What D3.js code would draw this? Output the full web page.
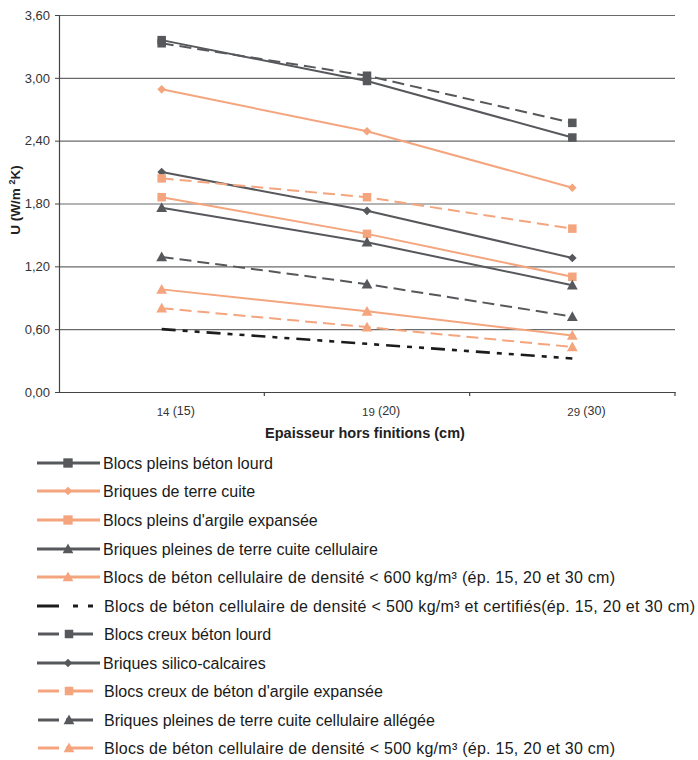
<!DOCTYPE html>
<html><head><meta charset="utf-8">
<script src="https://cdn.jsdelivr.net/npm/d3@7"></script>
<style>
body{margin:0;background:#fff;}
svg{display:block;font-family:"Liberation Sans",Arial,sans-serif;}
</style></head>
<body><svg id="c" width="698" height="760"></svg>
<script>
const categories = ["14|(15)", "19|(20)", "29|(30)"];
const yTicks = [0, 0.6, 1.2, 1.8, 2.4, 3.0, 3.6];
const seriesNames = [
  "Blocs pleins béton lourd",
  "Briques de terre cuite",
  "Blocs pleins d'argile expansée",
  "Briques pleines de terre cuite cellulaire",
  "Blocs de béton cellulaire de densité < 600 kg/m³ (ép. 15, 20 et 30 cm)",
  "Blocs de béton cellulaire de densité < 500 kg/m³ et certifiés(ép. 15, 20 et 30 cm)",
  "Blocs creux béton lourd",
  "Briques silico-calcaires",
  "Blocs creux de béton d'argile expansée",
  "Briques pleines de terre cuite cellulaire allégée",
  "Blocs de béton cellulaire de densité < 500 kg/m³ (ép. 15, 20 et 30 cm)"
];
const s1 = [3.36, 2.97, 2.43];
const s2 = [2.89, 2.49, 1.95];
const s3 = [1.86, 1.51, 1.10];
const s4 = [1.76, 1.43, 1.02];
const s5 = [0.98, 0.77, 0.54];
const s6 = [0.60, 0.46, 0.32];
const s7 = [3.33, 3.02, 2.57];
const s8 = [2.10, 1.73, 1.28];
const s9 = [2.04, 1.86, 1.56];
const s10 = [1.29, 1.03, 0.72];
const s11 = [0.80, 0.62, 0.43];
const seriesValues = [s1, s2, s3, s4, s5, s6, s7, s8, s9, s10, s11];

// styles (separate from data)
const DARK = "#56585b", SAL = "#f4a57e", BLK = "#1c1c1c";
const seriesColor = [DARK, SAL, SAL, DARK, SAL, BLK, DARK, DARK, SAL, DARK, SAL];
const seriesDash = [null, null, null, null, null, "14,7,5,7,5,7", "12,6", null, "12,6", "12,6", "12,6"];
const seriesMarker = ["square", "diamond", "square", "triangle", "triangle", null, "square", "diamond", "square", "triangle", "triangle"];
const seriesWidth = [2, 2, 2, 2, 2, 2.6, 2, 2, 2, 2, 2];
const legendTextLen = [null, null, null, null, 512, 591, null, null, null, null, 511];

const svg = d3.select("#c");
const L = 59, R = 675, T = 15, B = 392;
const x = d3.scaleBand().domain(categories).range([L, R]).paddingInner(0).paddingOuter(0);
const y = d3.scaleLinear().domain([0, 3.6]).range([B, T]);
const fmt = d => d3.format(".2f")(d).replace(".", ",");

// gridlines
svg.append("g").attr("transform", `translate(${L},0)`)
  .call(d3.axisLeft(y).tickValues(yTicks).tickSize(-(R - L)).tickFormat(""))
  .call(g => g.select(".domain").remove())
  .call(g => g.selectAll("line").attr("stroke", "#6a6a6a").attr("stroke-width", 1.2));

// y axis
svg.append("g").attr("transform", `translate(${L},0)`)
  .call(d3.axisLeft(y).tickValues(yTicks).tickSize(4).tickPadding(5).tickFormat(fmt))
  .call(g => g.select(".domain").attr("stroke", "#444").attr("stroke-width", 1.2))
  .call(g => g.selectAll("line").attr("stroke", "#444"))
  .call(g => g.selectAll("text").attr("font-size", 13).attr("fill", "#333").attr("font-family", "Liberation Sans, Arial, sans-serif"));

// x axis
svg.append("g").attr("transform", `translate(0,${B})`)
  .call(d3.axisBottom(x).tickSizeInner(0).tickSizeOuter(0).tickFormat(""))
  .call(g => g.select(".domain").attr("stroke", "#444").attr("stroke-width", 1.2));
const bounds = categories.slice(1).map(c => x(c)).concat([R]);
svg.append("g").selectAll("line").data(bounds).join("line")
  .attr("x1", d => d).attr("x2", d => d).attr("y1", B).attr("y2", B + 4)
  .attr("stroke", "#444").attr("stroke-width", 1.2);

// x labels
const xl = svg.append("g").selectAll("text").data(categories).join("text")
  .attr("x", d => x(d) + x.bandwidth() / 2 - 5).attr("y", 416)
  .attr("fill", "#333");
xl.append("tspan").attr("font-size", 11.5).text(d => d.split("|")[0] + " ");
xl.append("tspan").attr("font-size", 12.5).attr("dy", -1.5).text(d => d.split("|")[1]);

svg.append("text").attr("x", 365).attr("y", 438).attr("text-anchor", "middle")
  .attr("font-size", 14.5).attr("font-weight", "bold").attr("fill", "#222")
  .text("Epaisseur hors finitions (cm)");

// y title
const yt = svg.append("text").attr("transform", `translate(20,200) rotate(-90)`)
  .attr("text-anchor", "middle").attr("font-size", 13.5).attr("font-weight", "bold").attr("fill", "#222");
yt.append("tspan").text("U (W/m ");
yt.append("tspan").attr("font-size", 9).attr("dy", -5).text("2");
yt.append("tspan").attr("dy", 5).text("K)");

// markers
function drawMarker(g, type, cx, cy, color, scale) {
  const k = scale || 1;
  if (type === "square") {
    const s = 8.5 * k;
    g.append("rect").attr("x", cx - s / 2).attr("y", cy - s / 2).attr("width", s).attr("height", s).attr("fill", color);
  } else if (type === "diamond") {
    const s = 4.3 * k;
    g.append("path").attr("d", `M${cx},${cy - s}L${cx + s},${cy}L${cx},${cy + s}L${cx - s},${cy}Z`).attr("fill", color);
  } else if (type === "triangle") {
    const s = 5.4 * k;
    g.append("path").attr("d", `M${cx},${cy - s}L${cx + s},${cy + s * 0.8}L${cx - s},${cy + s * 0.8}Z`).attr("fill", color);
  }
}

const line = d3.line().x((d, i) => x(categories[i]) + x.bandwidth() / 2).y(d => y(d));
const plot = svg.append("g");
seriesValues.forEach((vals, si) => {
  const g = plot.append("g");
  g.append("path").attr("d", line(vals)).attr("fill", "none")
    .attr("stroke", seriesColor[si]).attr("stroke-width", seriesWidth[si])
    .attr("stroke-dasharray", seriesDash[si]);
  if (seriesMarker[si]) vals.forEach((v, i) =>
    drawMarker(g, seriesMarker[si], x(categories[i]) + x.bandwidth() / 2, y(v), seriesColor[si]));
});

// legend
const legY = [463, 491, 520, 549, 577, 606, 634, 663, 691, 720, 748];
const lg = svg.append("g");
seriesNames.forEach((name, si) => {
  const cy = legY[si];
  const g = lg.append("g");
  const c = seriesColor[si];
  if (si === 5) {
    g.append("line").attr("x1", 37).attr("x2", 59).attr("y1", cy).attr("y2", cy).attr("stroke", c).attr("stroke-width", 3);
    g.append("rect").attr("x", 73).attr("y", cy - 1.5).attr("width", 5).attr("height", 3).attr("fill", c);
    g.append("rect").attr("x", 88).attr("y", cy - 1.5).attr("width", 5).attr("height", 3).attr("fill", c);
  } else if (seriesDash[si]) {
    g.append("line").attr("x1", 38).attr("x2", 59).attr("y1", cy).attr("y2", cy).attr("stroke", c).attr("stroke-width", 3);
    g.append("line").attr("x1", 66).attr("x2", 93).attr("y1", cy).attr("y2", cy).attr("stroke", c).attr("stroke-width", 3);
    drawMarker(g, seriesMarker[si], 69, cy, c, 1);
  } else {
    g.append("line").attr("x1", 37).attr("x2", 100).attr("y1", cy).attr("y2", cy).attr("stroke", c).attr("stroke-width", 3);
    drawMarker(g, seriesMarker[si], 68, cy, c, seriesMarker[si] === "square" ? 1.1 : 1);
  }
  const t = g.append("text").attr("x", si >= 5 && si !== 7 ? 104 : 103).attr("y", cy + 5.5)
    .attr("font-size", 16).attr("fill", "#1a1a1a").text(name);
  if (legendTextLen[si]) t.attr("textLength", legendTextLen[si]).attr("lengthAdjust", "spacing");
});
</script></body></html>
